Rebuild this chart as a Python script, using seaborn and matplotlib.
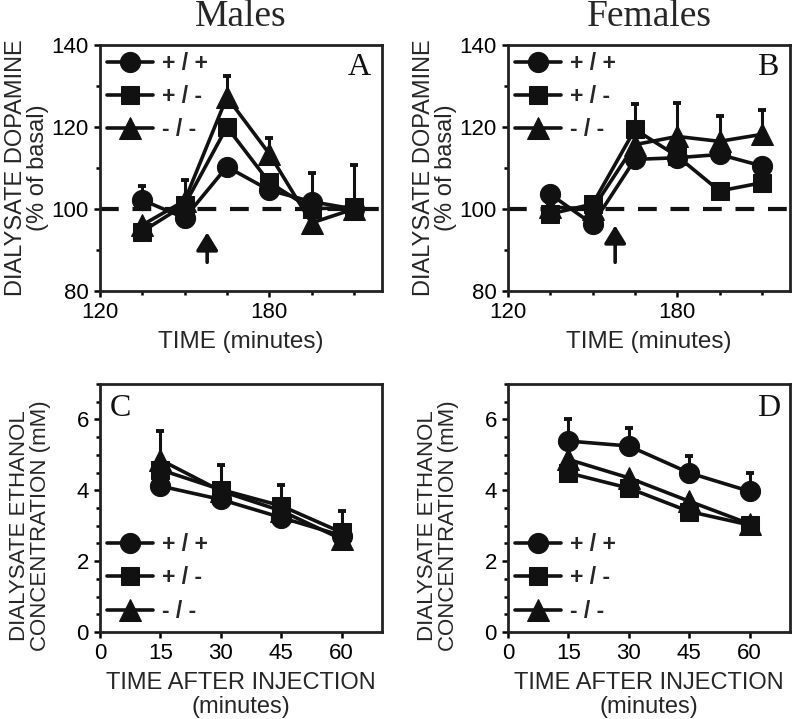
import matplotlib
matplotlib.use("Agg")
import matplotlib.pyplot as plt
from matplotlib.ticker import MultipleLocator, FixedLocator
import seaborn as sns
import pandas as pd
import numpy as np

# ---- data ----
genotypes = ["+/+", "+/-", "-/-"]
genotype_labels = ["+ / +", "+ / -", "- / -"]

# dopamine (% of basal) vs time (minutes)
da_time = [135, 150, 165, 180, 195, 210]
da_male = {
    "+/+": [102.2, 97.8, 110.3, 104.6, 101.8, 100.0],
    "+/-": [94.5, 101.0, 120.0, 106.5, 100.0, 100.5],
    "-/-": [96.1, 102.0, 127.3, 113.5, 96.6, 100.0],
}
da_male_sem = {
    "+/+": [3.3, 0, 0, 0, 6.9, 0],
    "+/-": [0, 6.0, 0, 0, 0, 10.2],
    "-/-": [0, 0, 5.2, 3.7, 0, 0],
}
da_female = {
    "+/+": [103.6, 96.3, 112.1, 112.5, 113.3, 110.5],
    "+/-": [98.8, 101.2, 119.4, 112.9, 104.4, 106.4],
    "-/-": [100.5, 100.0, 115.7, 117.7, 116.5, 118.2],
}
da_female_sem = {
    "+/+": [0, 0, 0, 0, 0, 0],
    "+/-": [0, 0, 6.3, 0, 0, 0],
    "-/-": [0, 0, 0, 8.1, 6.3, 6.0],
}

# ethanol (mM) vs time after injection (minutes)
etoh_time = [15, 30, 45, 60]
etoh_male = {
    "+/+": [4.12, 3.74, 3.23, 2.72],
    "+/-": [4.58, 4.02, 3.56, 2.81],
    "-/-": [4.86, 3.98, 3.42, 2.62],
}
etoh_male_sem = {
    "+/+": [0, 0, 0, 0],
    "+/-": [0, 0.70, 0.60, 0.60],
    "-/-": [0.80, 0, 0, 0],
}
etoh_female = {
    "+/+": [5.39, 5.25, 4.49, 3.97],
    "+/-": [4.49, 4.06, 3.40, 3.02],
    "-/-": [4.87, 4.35, 3.69, 3.05],
}
etoh_female_sem = {
    "+/+": [0.63, 0.51, 0.49, 0.52],
    "+/-": [0, 0, 0, 0],
    "-/-": [0, 0, 0, 0],
}

injection_time = 158

markers = {"+/+": "o", "+/-": "s", "-/-": "^"}
msizes = {"+/+": 14.5, "+/-": 13, "-/-": 15.5}

sns.set_theme(style="ticks")
plt.rcParams["font.family"] = ["Liberation Sans", "DejaVu Sans"]
plt.rcParams["axes.linewidth"] = 2.0
for k in ["xtick.major.width", "ytick.major.width", "xtick.minor.width", "ytick.minor.width"]:
    plt.rcParams[k] = 1.8
plt.rcParams["xtick.major.size"] = 4
plt.rcParams["ytick.major.size"] = 4
plt.rcParams["xtick.minor.size"] = 3
plt.rcParams["ytick.minor.size"] = 3
plt.rcParams["xtick.color"] = "black"
plt.rcParams["ytick.color"] = "black"
plt.rcParams["axes.edgecolor"] = "#222222"

SERIF = ["Liberation Serif", "DejaVu Serif"]


def to_long(times, values, sems):
    rows = []
    for g in genotypes:
        for t, v, e in zip(times, values[g], sems[g]):
            rows.append({"time": t, "value": v, "sem": e, "genotype": g})
    return pd.DataFrame(rows)


def draw_series(ax, df):
    handles = []
    for g in genotypes:
        sub = df[df["genotype"] == g]
        ax.errorbar(sub["time"], sub["value"],
                    yerr=[np.zeros(len(sub)), sub["sem"].values],
                    fmt="none", ecolor="#111111", elinewidth=2.2,
                    capsize=3, capthick=2.8, zorder=2)
        sns.lineplot(data=sub, x="time", y="value", ax=ax, color="#111111",
                     marker=markers[g], markersize=msizes[g], linewidth=2.6,
                     markeredgecolor="#111111", zorder=3,
                     errorbar=None, legend=False)
        handles.append(ax.lines[-1])
    return handles


def add_legend(ax, handles, loc, anchor):
    leg = ax.legend(handles, genotype_labels, loc=loc, bbox_to_anchor=anchor,
                    frameon=False, prop={"weight": "bold", "size": 16.5},
                    handlelength=2.0, handletextpad=0.4, labelspacing=0.45,
                    borderaxespad=0.1, borderpad=0.2)
    return leg


fig = plt.figure(figsize=(8, 7.19), dpi=100)
W, H = 800.0, 719.0


def make_ax(left, top, right, bottom):
    return fig.add_axes([left / W, 1 - bottom / H, (right - left) / W, (bottom - top) / H])


axA = make_ax(100, 45, 382, 291)
axB = make_ax(508, 45, 790, 291)
axC = make_ax(100, 384, 382, 632)
axD = make_ax(508, 384, 790, 632)

# top panels: dopamine
for ax, vals, sems, letter, arrow_tip in [(axA, da_male, da_male_sem, "A", 94.3),
                                          (axB, da_female, da_female_sem, "B", 96.0)]:
    df = to_long(da_time, vals, sems)
    ax.axhline(100, color="#111111", lw=3, dashes=(4.5, 3.3), zorder=1)
    handles = draw_series(ax, df)
    ax.set_xlim(120, 220)
    ax.set_ylim(80, 140)
    ax.xaxis.set_major_locator(FixedLocator([120, 180]))
    ax.xaxis.set_minor_locator(MultipleLocator(15))
    ax.yaxis.set_major_locator(MultipleLocator(20))
    ax.yaxis.set_minor_locator(MultipleLocator(10))
    ax.annotate("", xy=(injection_time, arrow_tip), xytext=(injection_time, 87.0),
                arrowprops=dict(arrowstyle="-|>,head_length=0.9,head_width=0.55",
                                color="#111111", lw=2.6, shrinkA=0, shrinkB=0,
                                mutation_scale=12))
    ax.text(0.96, 0.91, letter, transform=ax.transAxes, ha="right", va="center",
            fontsize=23, family=SERIF, color="#111111")
    ax.set_xlabel("TIME (minutes)", fontsize=17.5, labelpad=6)
    ax.set_ylabel("DIALYSATE DOPAMINE\n(% of basal)", fontsize=17, linespacing=1.0)
    ax.yaxis.set_label_coords(-0.18, 0.5)
    add_legend(ax, handles, "upper left", (0.0, 1.0))

# bottom panels: ethanol
for ax, vals, sems, letter, lx in [(axC, etoh_male, etoh_male_sem, "C", 0.035),
                                   (axD, etoh_female, etoh_female_sem, "D", 0.965)]:
    df = to_long(etoh_time, vals, sems)
    handles = draw_series(ax, df)
    ax.set_xlim(0, 70)
    ax.set_ylim(0, 7)
    ax.xaxis.set_major_locator(FixedLocator([0, 15, 30, 45, 60]))
    ax.yaxis.set_major_locator(MultipleLocator(2))
    ax.yaxis.set_minor_locator(MultipleLocator(0.5))
    ax.text(lx, 0.9, letter, transform=ax.transAxes,
            ha="left" if letter == "C" else "right", va="center",
            fontsize=23, family=SERIF, color="#111111")
    ax.set_xlabel("TIME AFTER INJECTION\n(minutes)", fontsize=17, linespacing=1.1, labelpad=6)
    ax.set_ylabel("DIALYSATE ETHANOL\nCONCENTRATION (mM)", fontsize=16, linespacing=1.0)
    ax.yaxis.set_label_coords(-0.175, 0.43)
    add_legend(ax, handles, "lower left", (0.0, 0.01))

for ax in [axA, axB, axC, axD]:
    ax.tick_params(axis="both", which="both", direction="out", labelsize=16, pad=4)
    for s in ax.spines.values():
        s.set_visible(True)
        s.set_linewidth(2.0)

fig.text(241 / W, 1 - 17 / H, "Males", ha="center", va="center", fontsize=27, family=SERIF)
fig.text(649 / W, 1 - 17 / H, "Females", ha="center", va="center", fontsize=27, family=SERIF)

fig.savefig("out.png", dpi=100, facecolor="white")
